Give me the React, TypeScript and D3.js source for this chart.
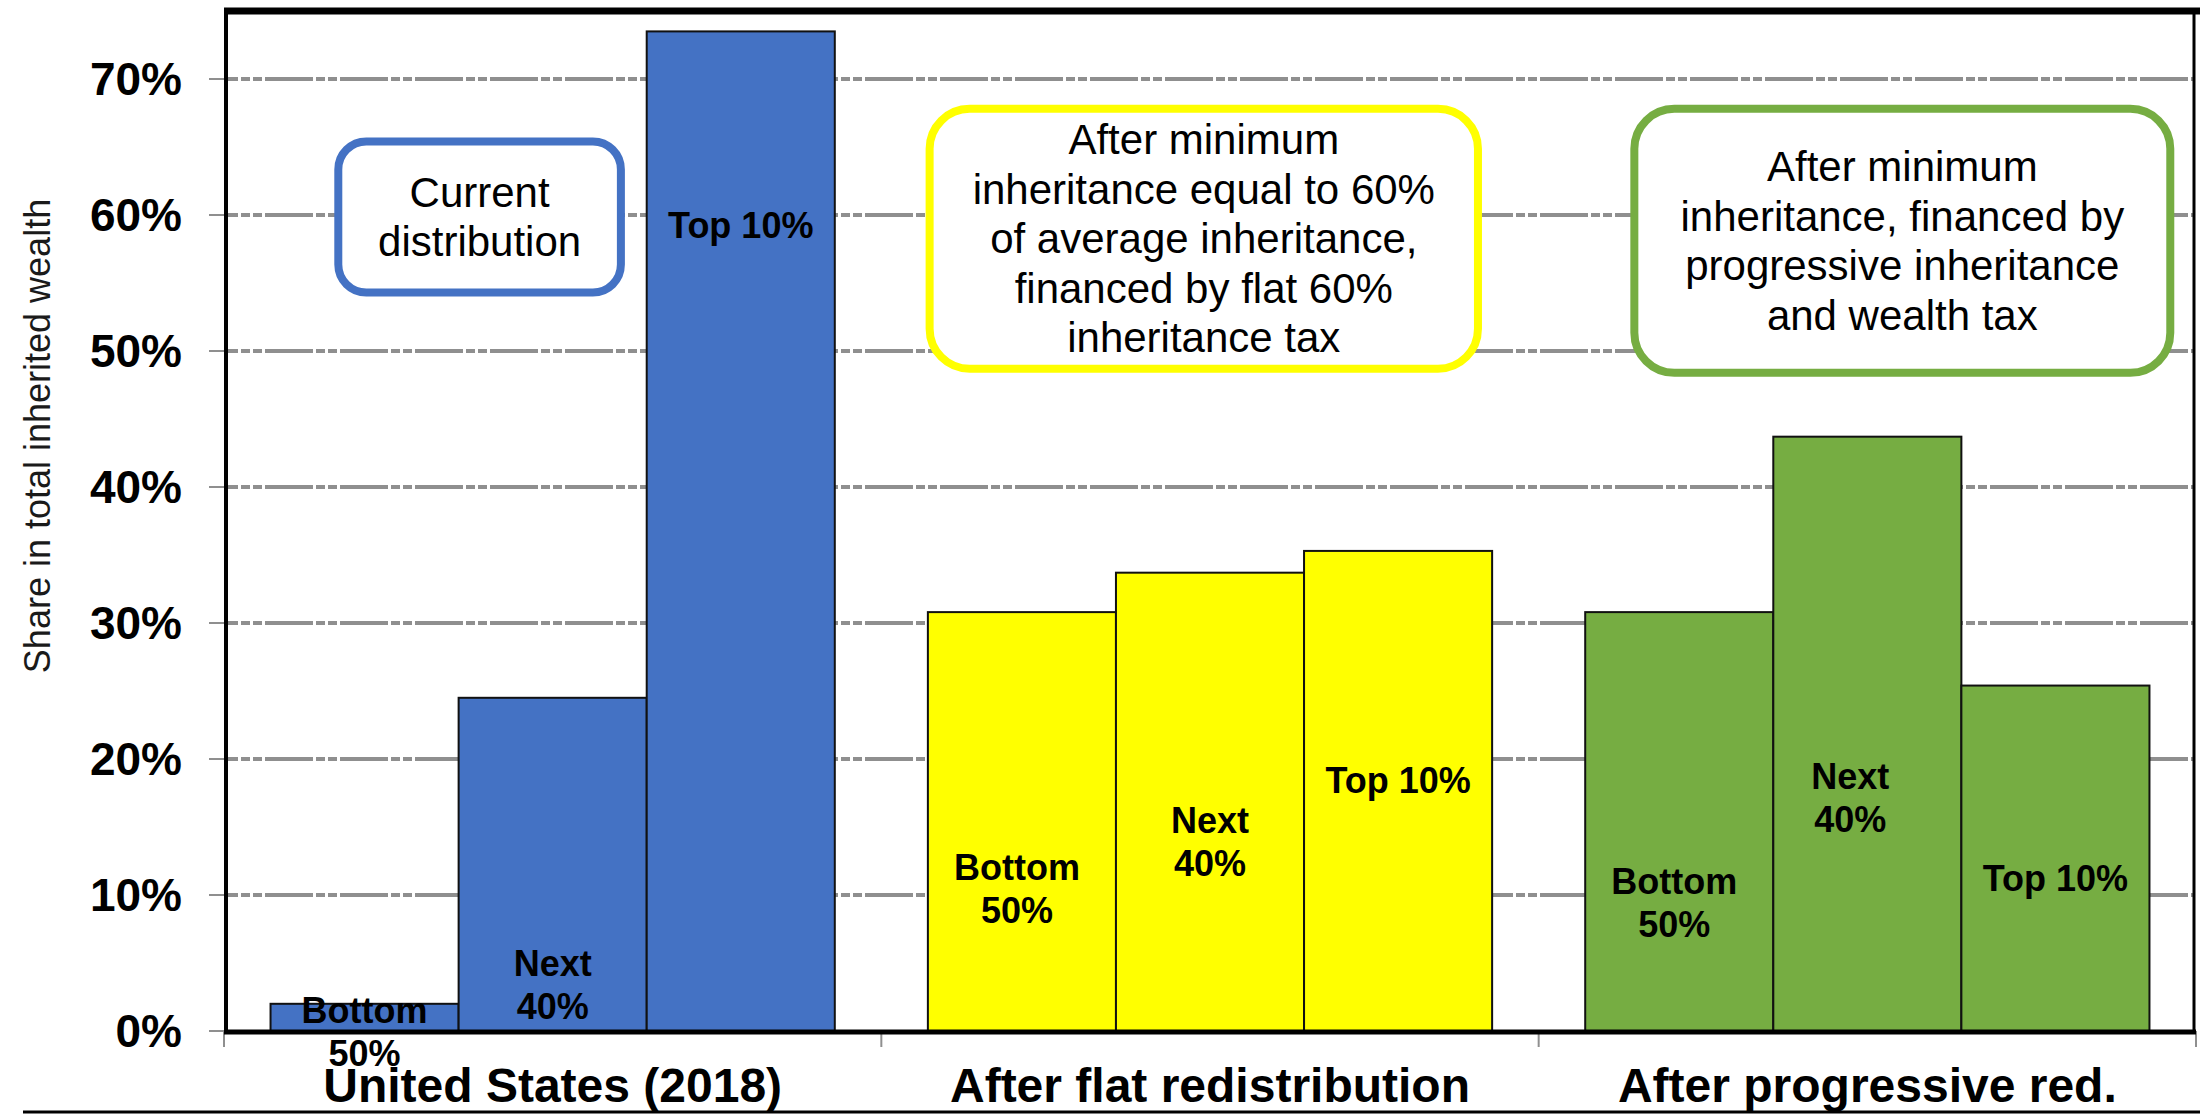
import React from 'react'
import * as d3 from 'd3'

const categories = ['United States (2018)', 'After flat redistribution', 'After progressive red.']
const groups = ['Bottom 50%', 'Next 40%', 'Top 10%']
const usShares = [2.0, 24.5, 73.5]
const flatShares = [30.8, 33.7, 35.3]
const progShares = [30.8, 43.7, 25.4]
const yTicks = [0, 10, 20, 30, 40, 50, 60, 70]
const barColors = ['#4472C4', '#FFFF00', '#76AD42']
const barLabelLines = [['Bottom', '50%'], ['Next', '40%'], ['Top 10%']]

// label anchors (value of first text line, in %) per category
const usLabelAt = [1.5, 5.0, 59.2]
const flatLabelAt = [12.0, 15.5, 18.4]
const progLabelAt = [11.0, 18.7, 11.2]
const progLabelDx = [-5, -17, 0]

const noteTexts = [
  ['Current', 'distribution'],
  ['After minimum', 'inheritance equal to 60%', 'of average inheritance,', 'financed by flat 60%', 'inheritance tax'],
  ['After minimum', 'inheritance, financed by', 'progressive inheritance', 'and wealth tax'],
]
const noteColors = ['#4472C4', '#FFFF00', '#76AD42']
// box extents: fraction of group width, and top/bottom in %
const noteFx = [[0.113, 0.628], [-0.004, 0.982], [0.08, 1.044]]
const noteVy = [[65.7, 54.0], [68.1, 48.4], [68.1, 48.1]]

const W = 2200
const H = 1114
const FONT = '"Liberation Sans", Arial, Helvetica, sans-serif'

export default function App() {
  const series = [usShares, flatShares, progShares]
  const labelAt = [usLabelAt, flatLabelAt, progLabelAt]
  const labelDx = [[0, 0, 0], [-5, 0, 0], progLabelDx]

  const left = 224
  const right = 2196
  const top = 11
  const bottom = 1031

  const x = d3.scaleBand<string>()
    .domain(categories)
    .range([left, right])
    .paddingInner(0.1416)
    .paddingOuter(0.0708)
  const sub = d3.scaleBand<string>().domain(groups).range([0, x.bandwidth()])
  const y = d3.scaleLinear().domain([0, 75]).range([bottom, top])

  const gridTicks = yTicks.filter(t => t > 0)
  const stroke = 8

  return (
    <svg width={W} height={H} style={{ position: 'absolute', left: 0, top: 0, background: '#fff' }}
      fontFamily={FONT}>
      <rect x={0} y={0} width={W} height={H} fill="#fff" />

      {/* grid */}
      {gridTicks.map(t => (
        <line key={t} x1={left + 2} x2={right - 3} y1={y(t)} y2={y(t)}
          stroke="#8f8f8f" strokeWidth={4} strokeDasharray="48 3 9 3 9 3" strokeDashoffset={36} />
      ))}

      {/* annotation boxes */}
      {noteTexts.map((lines, i) => {
        const gx = x(categories[i])!
        const bw = x.bandwidth()
        const x0 = gx + noteFx[i][0] * bw + stroke / 2
        const x1 = gx + noteFx[i][1] * bw - stroke / 2
        const y0 = y(noteVy[i][0]) + stroke / 2
        const y1 = y(noteVy[i][1]) - stroke / 2
        const cx = (x0 + x1) / 2
        const cy = (y0 + y1) / 2
        const lh = 49.5
        return (
          <g key={i}>
            <rect x={x0} y={y0} width={x1 - x0} height={y1 - y0} rx={i === 0 ? 28 : 40}
              fill="#fff" stroke={noteColors[i]} strokeWidth={stroke} />
            {lines.map((l, j) => (
              <text key={j} x={cx} y={cy + (j - (lines.length - 1) / 2) * lh}
                textAnchor="middle" dominantBaseline="central" fontSize={42} fill="#000">{l}</text>
            ))}
          </g>
        )
      })}

      {/* bars */}
      {series.map((vals, ci) => (
        <g key={ci}>
          {vals.map((v, gi) => (
            <rect key={gi} x={x(categories[ci])! + sub(groups[gi])!} y={y(v)}
              width={sub.bandwidth()} height={bottom - y(v)}
              fill={barColors[ci]} stroke="#111" strokeWidth={2} />
          ))}
        </g>
      ))}

      {/* bar labels */}
      {series.map((vals, ci) => (
        <g key={'l' + ci}>
          {vals.map((v, gi) => {
            const cx = x(categories[ci])! + sub(groups[gi])! + sub.bandwidth() / 2 + labelDx[ci][gi]
            const y0 = y(labelAt[ci][gi])
            return barLabelLines[gi].map((l, j) => (
              <text key={gi + '-' + j} x={cx} y={y0 + j * 43} textAnchor="middle"
                dominantBaseline="central" fontSize={36} fontWeight="bold" fill="#000">{l}</text>
            ))
          })}
        </g>
      ))}

      {/* y axis ticks and labels */}
      {yTicks.map(t => (
        <g key={'y' + t}>
          <line x1={209} x2={left + 2} y1={y(t)} y2={y(t)} stroke="#8f8f8f" strokeWidth={2} />
          <text x={182} y={y(t)} textAnchor="end" dominantBaseline="central"
            fontSize={46} fontWeight="bold" fill="#000">{t}%</text>
        </g>
      ))}

      {/* x ticks at category boundaries */}
      {[left, ...categories.map(c => x(c)! + x.bandwidth() + (x.step() - x.bandwidth()) / 2)].map((bx, i) => (
        <line key={'xt' + i} x1={bx} x2={bx} y1={bottom} y2={1047} stroke="#8f8f8f" strokeWidth={2} />
      ))}

      {/* frame */}
      <line x1={left + 2} x2={left + 2} y1={top} y2={bottom + 3} stroke="#000" strokeWidth={4} />
      <line x1={right - 2} x2={right - 2} y1={top} y2={bottom + 3} stroke="#000" strokeWidth={3} />
      <line x1={left} x2={W} y1={top} y2={top} stroke="#000" strokeWidth={7} />
      <line x1={left} x2={right} y1={bottom + 1} y2={bottom + 1} stroke="#000" strokeWidth={5} />

      {/* category labels */}
      {categories.map(c => (
        <text key={c} x={x(c)! + x.bandwidth() / 2} y={1102} textAnchor="middle"
          fontSize={48} fontWeight="bold" fill="#000">{c}</text>
      ))}

      {/* y axis title */}
      <text transform={`translate(50, 436) rotate(-90)`} textAnchor="middle" fontSize={36} fill="#1a1a1a">
        Share in total inherited wealth
      </text>

      <line x1={23} x2={W} y1={1112} y2={1112} stroke="#000" strokeWidth={3} />
    </svg>
  )
}
